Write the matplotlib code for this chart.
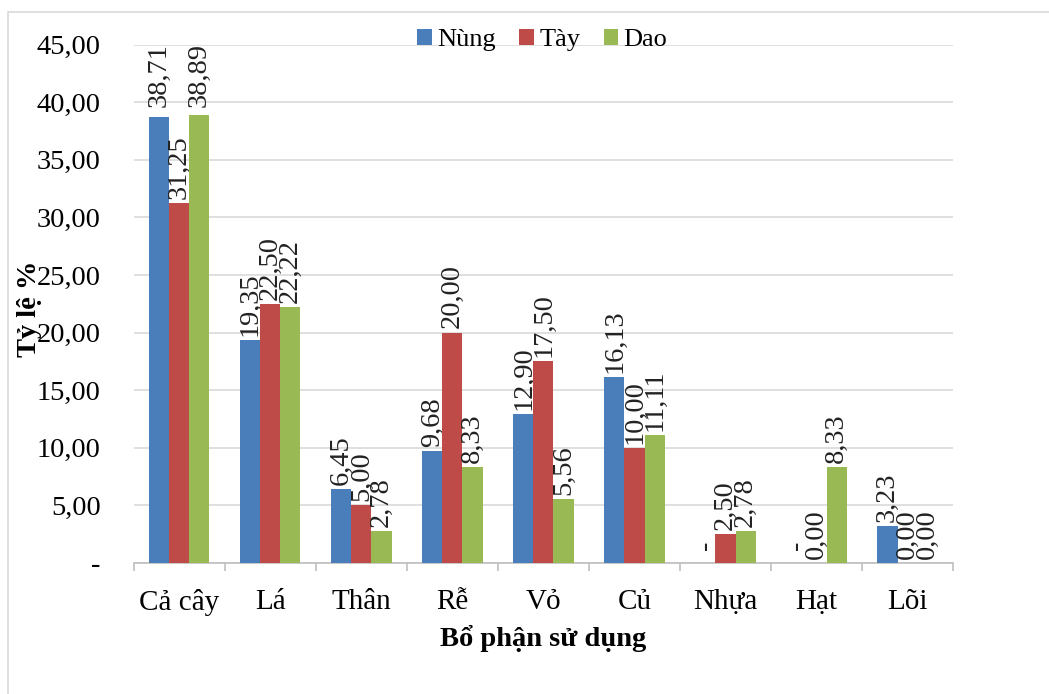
import matplotlib.pyplot as plt
import matplotlib.patches as mpatches
import numpy as np

plt.rcParams['font.family'] = ['Liberation Serif', 'DejaVu Serif']

categories = ["Cả cây", "Lá", "Thân", "Rễ", "Vỏ", "Củ", "Nhựa", "Hạt", "Lõi"]
nung = [38.71, 19.35, 6.45, 9.68, 12.90, 16.13, None, None, 3.23]
tay = [31.25, 22.50, 5.00, 20.00, 17.50, 10.00, 2.50, 0.00, 0.00]
dao = [38.89, 22.22, 2.78, 8.33, 5.56, 11.11, 2.78, 8.33, 0.00]
series = ["Nùng", "Tày", "Dao"]
colors = ["#4A7EBB", "#BE4B48", "#98B954"]

fig = plt.figure(figsize=(10.49, 6.94), dpi=100)
ax = fig.add_axes([0.1277, 0.1888, 0.7808, 0.7468])

# chart frame
fig.patches.append(mpatches.Rectangle((8 / 1049, -0.1), 1.2, 1 - 12 / 694 + 0.1,
                                      transform=fig.transFigure, fill=False,
                                      edgecolor="#d9d9d9", linewidth=1.2))

x = np.arange(len(categories))
w = 0.22
ymax = 45
lab_size = 20.5
for i, (vals, name, c) in enumerate(zip([nung, tay, dao], series, colors)):
    pos = x + (i - 1) * w
    h = [0 if v is None else v for v in vals]
    ax.bar(pos, h, width=w, color=c, label=name, zorder=3)
    for p, v in zip(pos, vals):
        if v is None:
            ax.annotate("-", (p, 0), xytext=(0, 9), textcoords="offset points",
                        ha="center", va="bottom", rotation=90, fontsize=lab_size, color="#222222")
            continue
        txt = f"{v:.2f}".replace(".", ",")
        if v > 38:
            ax.annotate(txt, (p, ymax), xytext=(0, 1), textcoords="offset points",
                        ha="center", va="top", rotation=90, fontsize=lab_size, color="#222222")
        else:
            ax.annotate(txt, (p, v), xytext=(0, 3), textcoords="offset points",
                        ha="center", va="bottom", rotation=90, fontsize=lab_size, color="#222222")

ax.set_xlim(-0.5, len(categories) - 0.5)
ax.set_ylim(0, ymax)
ax.set_yticks(np.arange(0, 46, 5))
ax.set_yticklabels(["-"] + [f"{v:.2f}".replace(".", ",") for v in np.arange(5, 46, 5)])
ax.yaxis.grid(True, color="#d9d9d9", linewidth=1.2, zorder=0)
ax.tick_params(axis="y", length=0, pad=24, labelsize=20.5)
ax.set_xticks(x)
ax.set_xticklabels(categories)
ax.set_xticks(np.arange(-0.5, len(categories), 1), minor=True)
ax.tick_params(axis="x", which="major", length=0, pad=19, labelsize=21)
ax.tick_params(axis="x", which="minor", length=6, color="#bfbfbf", width=1.2)

for s in ["top", "right", "left"]:
    ax.spines[s].set_visible(False)
ax.spines["bottom"].set_color("#bfbfbf")
ax.spines["bottom"].set_linewidth(1.2)

ax.set_xlabel("Bổ phận sử dụng", fontsize=20.5, fontweight="bold", labelpad=6)
ax.set_ylabel("Tỷ lệ %", fontsize=20.5, fontweight="bold")
ax.yaxis.set_label_coords(-0.112, 0.49)

ax.legend(loc="center", bbox_to_anchor=(0.517, 0.942), bbox_transform=fig.transFigure,
          ncol=3, frameon=False, fontsize=19, handlelength=0.55, handleheight=0.55,
          handletextpad=0.2, columnspacing=0.9)

fig.savefig("out.png", dpi=100)
